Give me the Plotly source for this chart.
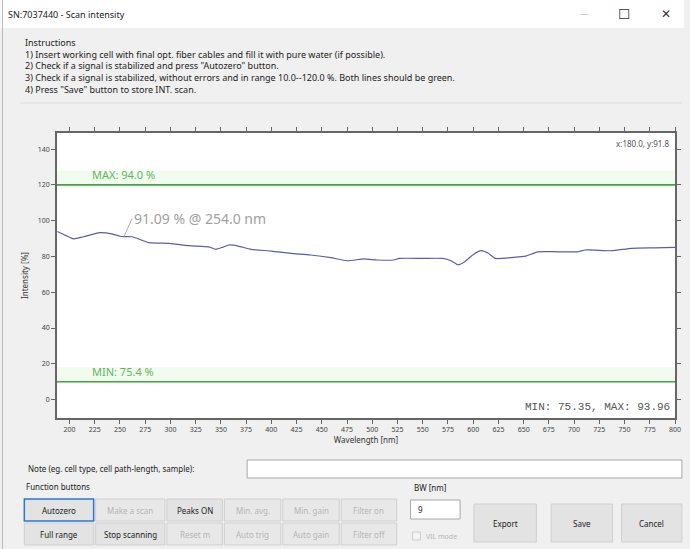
import plotly.graph_objects as go

# intensity scan
wavelength = [188, 196, 204, 214, 230, 242, 250, 254, 262, 279, 299, 318, 338, 345, 352,
              358, 367, 380, 400, 419, 439, 459, 475, 492, 505, 521, 527, 550, 570, 578,
              585, 592, 600, 608, 615, 622, 640, 652, 664, 684, 704, 711, 737, 757, 780, 800]
intensity = [93.96, 91.8, 89.8, 91.0, 93.3, 92.6, 91.3, 91.09, 91.0, 87.7, 87.3, 86.0, 85.4, 84.0, 85.2,
             86.4, 85.8, 84.0, 83.0, 81.7, 80.8, 79.3, 77.6, 78.6, 78.0, 78.0, 78.9, 78.9, 78.9, 77.6,
             75.35, 77.2, 81.0, 83.2, 81.8, 78.9, 79.5, 80.2, 82.6, 82.6, 82.6, 83.6, 83.2, 84.5, 84.8, 85.1]

x_ticks = [200, 225, 250, 275, 300, 325, 350, 375, 400, 425, 450, 475, 500,
           525, 550, 575, 600, 625, 650, 675, 700, 725, 750, 775, 800]
y_ticks = [0, 20, 40, 60, 80, 100, 120, 140]

limit_max = 120
limit_min = 10
max_label = "MAX: 94.0 %"
min_label = "MIN: 75.4 %"
peak_wl = 254.0
peak_val = 91.09
peak_label = "91.09 % @ 254.0 nm"
stats_label = "MIN: 75.35, MAX: 93.96"
cursor_label = "x:180.0, y:91.8"

instructions = [
    "Instructions",
    "1) Insert working cell with final opt. fiber cables and fill it with pure water (if possible).",
    "2) Check if a signal is stabilized and press \"Autozero\" button.",
    "3) Check if a signal is stabilized, without errors and in range 10.0--120.0 %. Both lines should be green.",
    "4) Press \"Save\" button to store INT. scan.",
]

# plot area in window pixels
L, T, W, H = 57, 133, 624, 285
FIG_W, FIG_H = 690, 549


def px(x):
    return (x - L) / W


def py(y):
    return (T + H - y) / H


UI_FONT = "Noto Sans, Liberation Sans, sans-serif"
GREEN = "#45a445"

fig = go.Figure()

fig.add_trace(go.Scatter(
    x=wavelength,
    y=intensity,
    mode='lines',
    line=dict(color='#5b5bb0', width=1.2, shape='spline', smoothing=0.5),
    showlegend=False,
    hoverinfo='skip'
))

shapes = []
annotations = []

# limit lines with their pale green glow
for lim in (limit_max, limit_min):
    shapes.append(dict(type='rect', xref='paper', yref='y', x0=0, x1=1, y0=lim - 1.2, y1=lim + 8,
                       fillcolor='rgba(215,245,210,0.35)', line_width=0, layer='below'))
    shapes.append(dict(type='line', xref='paper', yref='y', x0=0, x1=1, y0=lim, y1=lim,
                       line=dict(color=GREEN, width=1.6)))

for lim, text in ((limit_max, max_label), (limit_min, min_label)):
    annotations.append(dict(x=px(90), y=lim, xref='paper', yref='y', text=text, showarrow=False,
                            xanchor='left', yanchor='bottom', yshift=1,
                            font=dict(family=UI_FONT, size=11, color='#5cb85c')))

# peak label
annotations.append(dict(x=peak_wl, y=peak_val, xref='x', yref='y', text=peak_label,
                        showarrow=True, arrowhead=0, arrowwidth=1, arrowcolor='#b0b0b0',
                        ax=8, ay=-18, xanchor='left', yanchor='middle', standoff=0,
                        font=dict(family=UI_FONT, size=14, color='#a0a0a0')))

annotations.append(dict(x=1, y=1, xref='paper', yref='paper', text=cursor_label, showarrow=False,
                        xanchor='right', yanchor='top', xshift=-3, yshift=-3,
                        font=dict(family=UI_FONT, size=8, color='#555555')))
annotations.append(dict(x=1, y=0, xref='paper', yref='paper', text=stats_label, showarrow=False,
                        xanchor='right', yanchor='bottom', xshift=-3, yshift=3,
                        font=dict(family='Liberation Mono, monospace', size=11, color='#555555')))

# window chrome
shapes.append(dict(type='rect', xref='paper', yref='paper', x0=px(0), x1=px(FIG_W), y0=py(28), y1=py(0),
                   fillcolor='white', line_width=0, layer='below'))
shapes.append(dict(type='line', xref='paper', yref='paper', x0=px(2), x1=px(2), y0=py(FIG_H), y1=py(0),
                   line=dict(color='#b8b8b8', width=1)))
shapes.append(dict(type='line', xref='paper', yref='paper', x0=px(20), x1=px(688), y0=py(103), y1=py(103),
                   line=dict(color='#dcdcdc', width=1)))

annotations.append(dict(x=px(5), y=py(14), xref='paper', yref='paper', text="SN:7037440 - Scan intensity",
                        showarrow=False, xanchor='left', yanchor='middle',
                        font=dict(family=UI_FONT, size=9, color='#222222')))
for label, xc, size, col in (("\u2014", 590, 9, '#aaaaaa'), ("\u2610", 630, 14, '#333333'), ("\u2715", 672, 12, '#333333')):
    annotations.append(dict(x=px(xc), y=py(14), xref='paper', yref='paper', text=label, showarrow=False,
                            xanchor='center', yanchor='middle', font=dict(family='DejaVu Sans', size=size, color=col)))

annotations.append(dict(x=px(23), y=py(66), xref='paper', yref='paper', text="<br>".join(instructions),
                        showarrow=False, xanchor='left', yanchor='middle', align='left',
                        font=dict(family=UI_FONT, size=9, color='#222222')))

# bottom controls
annotations.append(dict(x=px(26), y=py(468), xref='paper', yref='paper',
                        text="Note (eg. cell type, cell path-length, sample):", showarrow=False,
                        xanchor='left', yanchor='middle', font=dict(family=UI_FONT, size=8, color='#222222')))
shapes.append(dict(type='rect', xref='paper', yref='paper', x0=px(249), x1=px(688), y0=py(478), y1=py(460),
                   fillcolor='white', line=dict(color='#a8a8a8', width=1)))
annotations.append(dict(x=px(24), y=py(486), xref='paper', yref='paper', text="Function buttons",
                        showarrow=False, xanchor='left', yanchor='middle',
                        font=dict(family=UI_FONT, size=8, color='#222222')))

buttons = [
    ("Autozero", 24, 94, 0, True), ("Make a scan", 96, 166, 0, False), ("Peaks ON", 168, 224, 0, True),
    ("Min. avg.", 226, 283, 0, False), ("Min. gain", 285, 342, 0, False), ("Filter on", 344, 400, 0, False),
    ("Full range", 24, 94, 1, True), ("Stop scanning", 96, 166, 1, True), ("Reset m", 168, 224, 1, False),
    ("Auto trig", 226, 283, 1, False), ("Auto gain", 285, 342, 1, False), ("Filter off", 344, 400, 1, False),
]
for label, x0, x1, row, enabled in buttons:
    y0 = 499 + row * 24
    y1 = y0 + 22
    border = '#2b78d0' if label == "Autozero" else '#cfcfcf'
    shapes.append(dict(type='rect', xref='paper', yref='paper', x0=px(x0), x1=px(x1), y0=py(y1), y1=py(y0),
                       fillcolor='#e3e3e3' if enabled else '#e8e8e8',
                       line=dict(color=border, width=1.5 if label == "Autozero" else 1)))
    annotations.append(dict(x=px((x0 + x1) / 2), y=py((y0 + y1) / 2), xref='paper', yref='paper', text=label,
                            showarrow=False, xanchor='center', yanchor='middle',
                            font=dict(family=UI_FONT, size=8, color='#222222' if enabled else '#b5b5b5')))

annotations.append(dict(x=px(415), y=py(487), xref='paper', yref='paper', text="BW [nm]", showarrow=False,
                        xanchor='left', yanchor='middle', font=dict(family=UI_FONT, size=8, color='#222222')))
shapes.append(dict(type='rect', xref='paper', yref='paper', x0=px(414), x1=px(464), y0=py(519), y1=py(500),
                   fillcolor='white', line=dict(color='#a8a8a8', width=1)))
annotations.append(dict(x=px(419), y=py(509.5), xref='paper', yref='paper', text="9", showarrow=False,
                        xanchor='left', yanchor='middle', font=dict(family=UI_FONT, size=8, color='#222222')))
shapes.append(dict(type='rect', xref='paper', yref='paper', x0=px(416), x1=px(424), y0=py(540), y1=py(532),
                   fillcolor='#f4f4f4', line=dict(color='#cccccc', width=1)))
annotations.append(dict(x=px(428), y=py(536), xref='paper', yref='paper', text="VIL mode", showarrow=False,
                        xanchor='left', yanchor='middle', font=dict(family=UI_FONT, size=7, color='#b5b5b5')))

for label, x0, x1 in (("Export", 478, 541), ("Save", 556, 618), ("Cancel", 627, 688)):
    shapes.append(dict(type='rect', xref='paper', yref='paper', x0=px(x0), x1=px(x1), y0=py(542), y1=py(504),
                       fillcolor='#e3e3e3', line=dict(color='#cfcfcf', width=1)))
    annotations.append(dict(x=px((x0 + x1) / 2), y=py(523), xref='paper', yref='paper', text=label,
                            showarrow=False, xanchor='center', yanchor='middle',
                            font=dict(family=UI_FONT, size=8, color='#222222')))

fig.update_layout(
    width=FIG_W,
    height=FIG_H,
    margin=dict(l=L, r=FIG_W - L - W, t=T, b=FIG_H - T - H),
    paper_bgcolor='#f0f0f0',
    plot_bgcolor='white',
    shapes=shapes,
    annotations=annotations,
    showlegend=False,
    xaxis=dict(
        range=[187.6, 800],
        tickvals=x_ticks,
        ticktext=[str(v) for v in x_ticks],
        ticks='outside', ticklen=4, tickcolor='#666666',
        showline=True, linecolor='#666666', linewidth=1.5, mirror='ticks',
        showgrid=False, zeroline=False,
        tickfont=dict(family=UI_FONT, size=7, color='#444444'),
        title=dict(text="Wavelength [nm]", font=dict(family=UI_FONT, size=8, color='#333333'), standoff=4),
    ),
    yaxis=dict(
        range=[-10.3, 149],
        tickvals=y_ticks,
        ticktext=[str(v) for v in y_ticks],
        ticks='outside', ticklen=4, tickcolor='#666666',
        showline=True, linecolor='#666666', linewidth=1.5, mirror='ticks',
        showgrid=False, zeroline=False,
        tickfont=dict(family=UI_FONT, size=7, color='#444444'),
        title=dict(text="Intensity [%]", font=dict(family=UI_FONT, size=8, color='#333333'), standoff=8),
    ),
)

# the page body has a default 8px margin; drop it so the figure sits at the window origin
fig.write_html("out.html", config={'displayModeBar': False},
               post_script="document.body.style.margin = '0';")
